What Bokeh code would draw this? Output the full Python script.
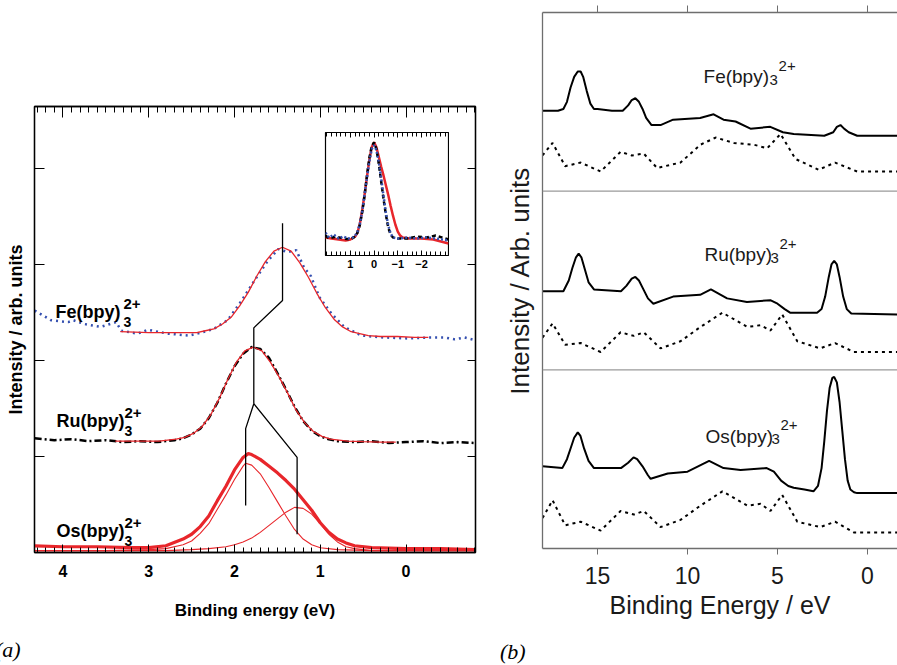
from bokeh.plotting import figure
from bokeh.models import Range1d, LinearAxis, FixedTicker, Span, Div, CustomLabelingPolicy
from bokeh.core.properties import value
from bokeh.embed import file_html
from bokeh.resources import INLINE

FONT = "Liberation Sans"
RED = "#e8262b"
BLUE = "#3550b0"
GREY = "#6e6e6e"

# ---------------- panel (a) data : binding energy (eV) / intensity ----------------
fe_x = [4.33, 4.14, 3.94, 3.88, 3.75, 3.56, 3.38, 3.32, 3.13, 3.01, 2.78, 2.53, 2.39, 2.24, 2.08, 1.92, 1.77,
        1.61, 1.49, 1.38, 1.28, 1.19, 1.11, 1.01, 0.87, 0.72, 0.52, 0.26, -0.02, -0.29, -0.45, -0.57, -0.68, -0.81]
fe_y = [2.52, 2.42, 2.40, 2.42, 2.38, 2.35, 2.40, 2.31, 2.28, 2.32, 2.28, 2.26, 2.29, 2.33, 2.42, 2.62, 2.83,
        3.04, 3.16, 3.13, 3.15, 2.97, 2.88, 2.66, 2.49, 2.35, 2.26, 2.24, 2.23, 2.24, 2.24, 2.22, 2.24, 2.21]

fe_fit_x = [3.33, 3.0, 2.7, 2.54, 2.44, 2.34, 2.24, 2.14, 2.04, 1.94, 1.84, 1.74, 1.64, 1.54, 1.44, 1.34, 1.24,
            1.14, 1.04, 0.94, 0.84, 0.74, 0.64, 0.54, 0.44, 0.3, 0.1, -0.1, -0.26]
fe_fit_y = [2.30, 2.29, 2.29, 2.29, 2.29, 2.31, 2.33, 2.38, 2.45, 2.57, 2.71, 2.88, 3.03, 3.14, 3.18, 3.14, 3.02,
            2.87, 2.70, 2.55, 2.43, 2.35, 2.30, 2.28, 2.26, 2.25, 2.25, 2.24, 2.24]

ru_x = [4.33, 4.1, 3.9, 3.7, 3.5, 3.3, 3.1, 2.9, 2.7, 2.6, 2.5, 2.4, 2.3, 2.2, 2.1, 2.0, 1.9, 1.8, 1.7, 1.6,
        1.5, 1.4, 1.3, 1.2, 1.1, 1.0, 0.9, 0.8, 0.6, 0.4, 0.2, 0.0, -0.2, -0.4, -0.6, -0.81]
ru_y = [1.19, 1.17, 1.18, 1.16, 1.17, 1.15, 1.16, 1.15, 1.17, 1.19, 1.23, 1.29, 1.40, 1.56, 1.76, 1.94, 2.07,
        2.14, 2.12, 2.03, 1.87, 1.70, 1.52, 1.37, 1.27, 1.21, 1.18, 1.16, 1.15, 1.16, 1.14, 1.15, 1.16, 1.14,
        1.15, 1.14]

ru_fit_x = [3.39, 3.1, 2.88, 2.78, 2.68, 2.58, 2.48, 2.38, 2.28, 2.18, 2.08, 1.98, 1.88, 1.78, 1.68, 1.58,
            1.48, 1.38, 1.28, 1.18, 1.08, 0.98, 0.88, 0.78, 0.68, 0.5, 0.3, 0.12]
ru_fit_y = [1.16, 1.16, 1.16, 1.17, 1.18, 1.20, 1.24, 1.31, 1.43, 1.60, 1.80, 1.98, 2.10, 2.14, 2.10, 1.98,
            1.83, 1.66, 1.48, 1.35, 1.26, 1.21, 1.18, 1.17, 1.16, 1.155, 1.15, 1.15]

os_x = [4.33, 4.0, 3.6, 3.2, 3.0, 2.8, 2.6, 2.5, 2.4, 2.3, 2.2, 2.1, 2.0, 1.9, 1.84, 1.8, 1.7, 1.6, 1.5, 1.4,
        1.3, 1.2, 1.1, 1.0, 0.9, 0.8, 0.7, 0.6, 0.4, 0.0, -0.4, -0.81]
os_y = [0.07, 0.06, 0.06, 0.05, 0.05, 0.07, 0.14, 0.19, 0.27, 0.38, 0.54, 0.69, 0.86, 0.99, 1.03, 1.02, 0.97,
        0.90, 0.83, 0.75, 0.66, 0.55, 0.44, 0.31, 0.21, 0.14, 0.10, 0.07, 0.05, 0.04, 0.04, 0.03]

os_c1_x = [4.33, 3.5, 3.0, 2.8, 2.6, 2.5, 2.4, 2.3, 2.2, 2.1, 2.0, 1.9, 1.87, 1.8, 1.7, 1.6, 1.5, 1.4, 1.3,
           1.2, 1.1, 1.0, 0.8, 0.4, -0.81]
os_c1_y = [0.02, 0.02, 0.03, 0.04, 0.08, 0.12, 0.20, 0.30, 0.45, 0.60, 0.76, 0.90, 0.93, 0.91, 0.82, 0.68,
           0.53, 0.38, 0.24, 0.14, 0.08, 0.05, 0.03, 0.02, 0.02]
os_c2_x = [4.33, 2.8, 2.5, 2.3, 2.1, 2.0, 1.9, 1.8, 1.7, 1.6, 1.5, 1.4, 1.3, 1.2, 1.1, 1.0, 0.9, 0.8, 0.7,
           0.6, 0.4, 0.0, -0.81]
os_c2_y = [0.02, 0.02, 0.03, 0.04, 0.06, 0.08, 0.11, 0.15, 0.21, 0.28, 0.35, 0.42, 0.47, 0.46, 0.40, 0.30,
           0.19, 0.11, 0.06, 0.04, 0.02, 0.02, 0.02]

# peak-position guide lines (eV, intensity)
guide_xs = [[1.44, 1.44, 1.775, 1.775], [1.775, 1.87, 1.87], [1.775, 1.27, 1.27]]
guide_ys = [[3.43, 2.625, 2.34, 1.55], [1.55, 1.29, 0.49], [1.55, 0.99, 0.19]]

a_names = ["Fe(bpy)", "Ru(bpy)", "Os(bpy)"]
a_name_x = [4.087, 4.076, 4.076]
a_name_y = [2.51, 1.375, 0.22]
a_xticks = [4, 3, 2, 1, 0]
a_xminor = [round(4.3 - 0.1 * i, 1) for i in range(52)]
a_yticks = [1, 2, 3, 4]

# inset: relative energy / normalised intensity
in_os_x = [2.05, 1.8, 1.5, 1.2, 1.0, 0.8, 0.7, 0.6, 0.5, 0.4, 0.3, 0.2, 0.1, 0.0, -0.1, -0.2, -0.3, -0.4,
           -0.5, -0.6, -0.7, -0.8, -0.9, -1.0, -1.1, -1.2, -1.5, -2.0, -2.5, -3.14]
in_os_y = [0.03, 0.02, 0.01, 0.0, 0.01, 0.04, 0.08, 0.17, 0.31, 0.47, 0.65, 0.82, 0.95, 1.0, 0.95, 0.85,
           0.75, 0.66, 0.56, 0.46, 0.35, 0.25, 0.16, 0.09, 0.05, 0.03, 0.02, 0.02, 0.01, -0.03]
in_fe_x = [2.05, 1.9, 1.7, 1.5, 1.3, 1.1, 0.9, 0.8, 0.7, 0.6, 0.5, 0.4, 0.3, 0.2, 0.1, 0.0, -0.1, -0.2,
           -0.3, -0.4, -0.5, -0.6, -0.7, -0.8, -1.0, -1.4, -1.8, -2.2, -2.6, -3.14]
in_fe_y = [0.08, 0.03, 0.06, 0.02, 0.04, 0.02, 0.03, 0.05, 0.09, 0.17, 0.30, 0.47, 0.64, 0.80, 0.93, 0.97,
           0.92, 0.80, 0.63, 0.45, 0.28, 0.15, 0.07, 0.03, 0.02, 0.03, 0.02, 0.03, 0.02, 0.0]
in_ru_x = [2.05, 1.9, 1.6, 1.3, 1.0, 0.8, 0.7, 0.6, 0.5, 0.4, 0.3, 0.2, 0.1, 0.0, -0.1, -0.2, -0.3, -0.4,
           -0.5, -0.6, -0.7, -0.8, -1.0, -1.4, -1.8, -2.2, -2.6, -3.14]
in_ru_y = [0.05, 0.02, 0.04, 0.02, 0.01, 0.04, 0.08, 0.16, 0.29, 0.46, 0.66, 0.84, 0.96, 1.0, 0.93, 0.78,
           0.60, 0.42, 0.26, 0.13, 0.06, 0.03, 0.02, 0.02, 0.04, 0.03, 0.05, 0.01]
in_xticks = [1, 0, -1, -2]
in_xminor = [round(2.0 - 0.2 * i, 1) for i in range(26)]

# ---------------- panel (b) data ----------------
b_fe_x = [18.06, 17.2, 16.9, 16.7, 16.5, 16.3, 16.1, 15.94, 15.8, 15.6, 15.4, 15.2, 15.0, 14.2, 13.6, 13.3,
          13.1, 12.9, 12.7, 12.5, 12.3, 12.0, 11.5, 10.8, 9.3, 8.55, 8.0, 7.33, 6.5, 5.4, 4.7, 4.1, 2.4, 1.9,
          1.7, 1.5, 1.3, 1.04, 0.57, -0.5, -1.67]
b_fe_y = [2.45, 2.45, 2.46, 2.50, 2.58, 2.64, 2.67, 2.67, 2.64, 2.56, 2.49, 2.46, 2.46, 2.45, 2.45, 2.48,
          2.51, 2.52, 2.50, 2.46, 2.41, 2.37, 2.37, 2.40, 2.41, 2.43, 2.40, 2.39, 2.35, 2.36, 2.33, 2.32, 2.31,
          2.33, 2.36, 2.37, 2.35, 2.33, 2.31, 2.31, 2.31]
b_ru_x = [18.06, 16.9, 16.6, 16.4, 16.2, 16.05, 15.9, 15.7, 15.5, 15.2, 13.7, 13.4, 13.1, 12.9, 12.7, 12.5,
          12.2, 11.9, 10.8, 9.3, 8.7, 7.8, 6.7, 5.4, 5.0, 4.6, 4.3, 2.8, 2.55, 2.35, 2.15, 2.0, 1.85, 1.7, 1.55,
          1.35, 1.15, 0.9, -1.67]
b_ru_y = [1.44, 1.44, 1.50, 1.57, 1.63, 1.65, 1.63, 1.56, 1.49, 1.45, 1.44, 1.47, 1.51, 1.52, 1.50, 1.46,
          1.40, 1.37, 1.41, 1.42, 1.45, 1.40, 1.38, 1.39, 1.37, 1.34, 1.32, 1.32, 1.34, 1.41, 1.52, 1.59, 1.61,
          1.59, 1.52, 1.41, 1.34, 1.315, 1.31]
b_os_x = [18.06, 16.96, 16.7, 16.5, 16.3, 16.1, 15.95, 15.75, 15.5, 15.2, 13.7, 13.3, 13.0, 12.8, 12.5,
          12.2, 12.05, 11.1, 10.0, 8.8, 8.0, 7.05, 5.6, 5.2, 4.8, 4.4, 4.1, 3.5, 3.0, 2.75, 2.55, 2.4, 2.25,
          2.1, 1.95, 1.85, 1.7, 1.55, 1.4, 1.25, 1.1, 0.95, 0.75, 0.57, -1.67]
b_os_y = [0.46, 0.45, 0.50, 0.56, 0.62, 0.65, 0.63, 0.56, 0.49, 0.45, 0.45, 0.48, 0.51, 0.50, 0.46, 0.41,
          0.39, 0.42, 0.43, 0.49, 0.45, 0.44, 0.45, 0.43, 0.38, 0.35, 0.34, 0.33, 0.32, 0.35, 0.45, 0.60, 0.77,
          0.90, 0.955, 0.96, 0.93, 0.82, 0.66, 0.50, 0.38, 0.33, 0.315, 0.31, 0.31]
b_fe_calc_x = [18.06, 17.5, 16.8, 15.94, 14.83, 13.72, 13.1, 12.43, 11.69, 10.39, 9.28, 8.44, 7.42, 6.31,
               5.57, 4.83, 4.0, 2.72, 1.8, 0.57, -1.67]
b_fe_calc_y = [2.20, 2.27, 2.14, 2.16, 2.11, 2.22, 2.20, 2.21, 2.13, 2.16, 2.26, 2.30, 2.27, 2.26, 2.24,
               2.32, 2.18, 2.12, 2.16, 2.11, 2.11]
b_calc_x = [18.06, 17.5, 16.8, 15.94, 14.83, 13.72, 12.98, 12.43, 11.5, 10.39, 9.28, 8.06, 6.68, 5.94, 5.39,
            4.74, 3.9, 2.63, 1.8, 0.76, -1.67]
b_ru_calc_y = [1.18, 1.26, 1.14, 1.15, 1.10, 1.21, 1.19, 1.21, 1.12, 1.16, 1.24, 1.32, 1.24, 1.25, 1.22,
               1.31, 1.16, 1.12, 1.15, 1.10, 1.10]
b_os_calc_y = [0.17, 0.27, 0.13, 0.15, 0.10, 0.21, 0.19, 0.21, 0.12, 0.16, 0.24, 0.32, 0.24, 0.25, 0.21,
               0.30, 0.15, 0.12, 0.15, 0.09, 0.09]
b_names = ["Fe(bpy)", "Ru(bpy)", "Os(bpy)"]
b_name_x = [9.11, 9.06, 9.0]
b_name_y = [2.64, 1.645, 0.627]
b_xticks = [15, 10, 5, 0]
b_separators = [1, 2]

NO_LABELS = "for (const i of Array.from(indices)) { indices.unset(i) }\nreturn indices"


def hide_labels(ax):
    ax.major_label_text_font_size = "0px"
    ax.major_label_standoff = 0
    ax.major_label_policy = CustomLabelingPolicy(code=NO_LABELS)


# ======================= panel (a) =======================
pa = figure(width=490, height=665, x_range=Range1d(4.332, -0.81), y_range=Range1d(0, 4.646),
            output_backend="svg", toolbar_location=None,
            min_border_left=34, min_border_right=15, min_border_top=106, min_border_bottom=113,
            outline_line_color="black", outline_line_width=1.3,
            styles={"position": "absolute", "left": "0px", "top": "0px"})
pa.grid.visible = False

xa = pa.xaxis[0]
xa.ticker = FixedTicker(ticks=a_xticks, minor_ticks=a_xminor)
xa.major_tick_in, xa.major_tick_out, xa.minor_tick_in, xa.minor_tick_out = 8, 0, 5, 0
xa.axis_line_width = 1.3
xa.major_label_text_font = FONT
xa.major_label_text_font_style = "bold"
xa.major_label_text_font_size = "16px"
xa.major_label_text_color = "black"
xa.major_label_standoff = 12
xa.axis_label = "Binding energy (eV)"
xa.axis_label_text_font = FONT
xa.axis_label_text_font_style = "bold"
xa.axis_label_text_font_size = "17px"
xa.axis_label_text_color = "black"
xa.axis_label_standoff = 21

ya = pa.yaxis[0]
ya.ticker = FixedTicker(ticks=a_yticks)
ya.major_tick_in, ya.major_tick_out = 10, 0
ya.axis_line_width = 1.3
hide_labels(ya)
ya.axis_label = "Intensity / arb. units"
ya.axis_label_text_font = FONT
ya.axis_label_text_font_style = "bold"
ya.axis_label_text_font_size = "18px"
ya.axis_label_text_color = "black"
ya.axis_label_standoff = 9

ta = LinearAxis(ticker=FixedTicker(ticks=a_xticks, minor_ticks=a_xminor), major_tick_in=11, major_tick_out=0,
                minor_tick_in=6, minor_tick_out=0, axis_line_width=1.3)
hide_labels(ta)
pa.add_layout(ta, "above")
ra = LinearAxis(ticker=FixedTicker(ticks=a_yticks), major_tick_in=8, major_tick_out=0, axis_line_width=1.3)
hide_labels(ra)
pa.add_layout(ra, "right")

pa.line(fe_x, fe_y, line_color=BLUE, line_width=2.5, line_dash="2 4")
pa.line(fe_fit_x, fe_fit_y, line_color=RED, line_width=1.3)
pa.line(ru_x, ru_y, line_color="black", line_width=2.5, line_dash="7 3 2 3")
pa.line(ru_fit_x, ru_fit_y, line_color=RED, line_width=1.3)
pa.line(os_c1_x, os_c1_y, line_color=RED, line_width=1.1)
pa.line(os_c2_x, os_c2_y, line_color=RED, line_width=1.1)
pa.line(os_x, os_y, line_color=RED, line_width=3.2)
pa.multi_line(guide_xs, guide_ys, line_color="black", line_width=1.3)

pa.text(a_name_x, a_name_y, text=a_names, text_font=value(FONT), text_font_style="bold",
        text_font_size="18px", text_baseline="alphabetic", text_align="left")
pa.text(a_name_x, a_name_y, text=["3", "3", "3"], text_font=value(FONT), text_font_style="bold",
        text_font_size="14px", text_baseline="alphabetic", text_align="left", x_offset=68, y_offset=10)
pa.text(a_name_x, a_name_y, text=["2+", "2+", "2+"], text_font=value(FONT), text_font_style="bold",
        text_font_size="15px", text_baseline="alphabetic", text_align="left", x_offset=68, y_offset=-8)

# ======================= inset =======================
pi = figure(width=125, height=145, x_range=Range1d(2.05, -3.14), y_range=Range1d(-0.153, 1.10),
            output_backend="svg", toolbar_location=None,
            min_border_left=1, min_border_right=1, min_border_top=1, min_border_bottom=21,
            outline_line_color="black", outline_line_width=1.2,
            styles={"position": "absolute", "left": "324px", "top": "131px"})
pi.grid.visible = False
pi.yaxis.visible = False
ix = pi.xaxis[0]
ix.ticker = FixedTicker(ticks=in_xticks, minor_ticks=in_xminor)
ix.major_tick_in, ix.major_tick_out, ix.minor_tick_in, ix.minor_tick_out = 5, 0, 4, 0
ix.major_label_text_font = FONT
ix.major_label_text_font_style = "bold"
ix.major_label_text_font_size = "11px"
ix.major_label_text_color = "black"
ix.major_label_standoff = 4
itop = LinearAxis(ticker=FixedTicker(ticks=in_xticks, minor_ticks=in_xminor), major_tick_in=5, major_tick_out=0,
                  minor_tick_in=4, minor_tick_out=0)
hide_labels(itop)
pi.add_layout(itop, "above")
pi.line(in_os_x, in_os_y, line_color=RED, line_width=2.5)
pi.line(in_ru_x, in_ru_y, line_color="black", line_width=2.5, line_dash="4 3")
pi.line(in_fe_x, in_fe_y, line_color=BLUE, line_width=2.5, line_dash="2 2")

# ======================= panel (b) =======================
pb = figure(width=407, height=665, x_range=Range1d(18.06, -1.67), y_range=Range1d(0, 3),
            output_backend="svg", toolbar_location=None,
            min_border_left=52, min_border_right=0, min_border_top=12, min_border_bottom=117,
            outline_line_color=None,
            styles={"position": "absolute", "left": "490px", "top": "0px"})
pb.grid.visible = False

bx = pb.xaxis[0]
bx.ticker = FixedTicker(ticks=b_xticks)
bx.major_tick_in, bx.major_tick_out = 0, 6
bx.axis_line_color = GREY
bx.major_tick_line_color = GREY
bx.axis_line_width = 1.3
bx.major_label_text_font = FONT
bx.major_label_text_font_size = "23px"
bx.major_label_text_color = "#1a1a1a"
bx.major_label_standoff = 12
bx.axis_label = "Binding Energy / eV"
bx.axis_label_text_font = FONT
bx.axis_label_text_font_style = "normal"
bx.axis_label_text_font_size = "25px"
bx.axis_label_text_color = "#1a1a1a"
bx.axis_label_standoff = 4

by = pb.yaxis[0]
by.ticker = FixedTicker(ticks=[])
by.major_tick_in, by.major_tick_out = 0, 0
by.axis_line_color = GREY
by.axis_line_width = 1.3
by.major_label_text_font_size = "0px"
by.major_label_standoff = 0
by.axis_label = "Intensity / Arb. units"
by.axis_label_text_font = FONT
by.axis_label_text_font_style = "normal"
by.axis_label_text_font_size = "26px"
by.axis_label_text_color = "#1a1a1a"
by.axis_label_standoff = 8

btop = LinearAxis(ticker=FixedTicker(ticks=b_xticks), major_tick_in=0, major_tick_out=7,
                  axis_line_color=GREY, major_tick_line_color=GREY, axis_line_width=1.3)
hide_labels(btop)
pb.add_layout(btop, "above")

for loc in b_separators:
    pb.add_layout(Span(location=loc, dimension="width", line_color="#9a9a9a", line_width=1.3))

pb.line(b_fe_x, b_fe_y, line_color="black", line_width=2)
pb.line(b_ru_x, b_ru_y, line_color="black", line_width=2)
pb.line(b_os_x, b_os_y, line_color="black", line_width=2)
pb.line(b_fe_calc_x, b_fe_calc_y, line_color="black", line_width=2, line_dash="3 4")
pb.line(b_calc_x, b_ru_calc_y, line_color="black", line_width=2, line_dash="3 4")
pb.line(b_calc_x, b_os_calc_y, line_color="black", line_width=2, line_dash="3 4")

pb.text(b_name_x, b_name_y, text=b_names, text_font=value(FONT), text_font_size="19px",
        text_baseline="alphabetic", text_align="left", text_color="#1a1a1a")
pb.text(b_name_x, b_name_y, text=["3", "3", "3"], text_font=value(FONT), text_font_size="15px",
        text_baseline="alphabetic", text_align="left", text_color="#1a1a1a", x_offset=66, y_offset=3)
pb.text(b_name_x, b_name_y, text=["2+", "2+", "2+"], text_font=value(FONT), text_font_size="15px",
        text_baseline="alphabetic", text_align="left", text_color="#1a1a1a", x_offset=75, y_offset=-11)

# ======================= panel tags =======================
TAG = ('<span style="font-family: \'Liberation Serif\'; font-style: italic; font-size: 22px; '
       'line-height: 26px; color: black;">{}</span>')
tag_a = Div(text=TAG.format("(a)"), width=40, height=26,
            styles={"position": "absolute", "left": "-5px", "top": "637px", "margin": "0", "padding": "0"})
tag_b = Div(text=TAG.format("(b)"), width=40, height=26,
            styles={"position": "absolute", "left": "500px", "top": "639px", "margin": "0", "padding": "0"})

open("out.html", "w").write(file_html([pa, pb, pi, tag_a, tag_b], INLINE, title="Photoelectron spectra"))
